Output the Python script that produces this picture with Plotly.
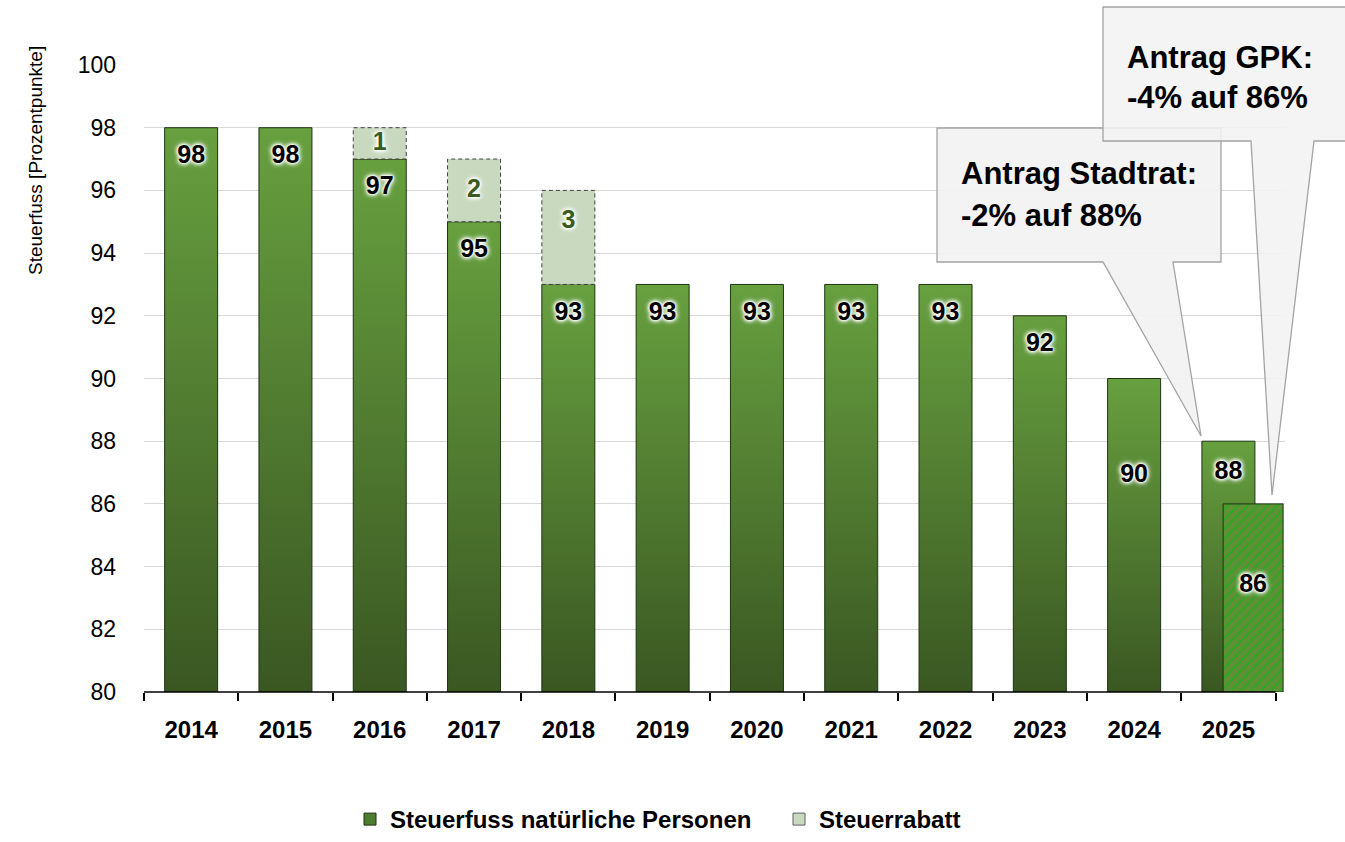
import plotly.graph_objects as go

# ---------------- data ----------------
years = ["2014", "2015", "2016", "2017", "2018", "2019", "2020", "2021", "2022", "2023", "2024", "2025"]
steuerfuss = [98, 98, 97, 95, 93, 93, 93, 93, 93, 92, 90, 88]
steuerrabatt = [0, 0, 1, 2, 3, 0, 0, 0, 0, 0, 0, 0]
gpk_year = "2025"
gpk_value = 86
y_ticks = [80, 82, 84, 86, 88, 90, 92, 94, 96, 98, 100]
callout_stadtrat = ["Antrag Stadtrat:", "-2% auf 88%"]
callout_gpk = ["Antrag GPK:", "-4% auf 86%"]

# ---------------- style ----------------
FONT = "Liberation Sans, Arial, sans-serif"
DARK = "#3a5722"
LIGHT = "#67a03f"
RABATT_FILL = "#c9d9c0"
BAR_W = 0.562
GPK_W, GPK_OFF = 0.636, -0.056
HALO = ("0px 0px 2px #ffffff, 0px 0px 3px #ffffff, 0px 0px 4px #ffffff, "
        "0px 0px 5px #ffffff, 0px 0px 6px #f0fff0")
label_drop = [0.92] * 10 + [3.1, 1.0]          # label distance below bar top (style)
rabatt_label_drop = [0, 0, 0.5, 1.0, 1.0, 0, 0, 0, 0, 0, 0, 0]

L, R, T, B = 144, 60, 65, 150
W, H = 1345, 842
PW, PH = W - L - R, H - T - B


def px(x):
    return (x - L) / PW


def py(y):
    return (H - B - y) / PH


fig = go.Figure()
xs = list(range(len(years)))
base = y_ticks[0]

# main bars (gradient filled)
for i, v in enumerate(steuerfuss):
    x0, x1 = xs[i] - BAR_W / 2, xs[i] + BAR_W / 2
    fig.add_trace(go.Scatter(
        x=[x0, x1, x1, x0, x0], y=[base, base, v, v, base],
        mode="lines", fill="toself",
        fillgradient=dict(type="vertical", colorscale=[[0, DARK], [1, LIGHT]]),
        line=dict(color="#1f3312", width=1),
        showlegend=False, hoverinfo="skip"))

# rabatt segments (dashed outline)
for i, (v, r) in enumerate(zip(steuerfuss, steuerrabatt)):
    if r <= 0:
        continue
    x0, x1 = xs[i] - BAR_W / 2, xs[i] + BAR_W / 2
    fig.add_trace(go.Scatter(
        x=[x0, x1, x1, x0, x0], y=[v, v, v + r, v + r, v],
        mode="lines", fill="toself", fillcolor=RABATT_FILL,
        line=dict(color="#404040", width=1, dash="4px,3px"),
        showlegend=False, hoverinfo="skip"))

# GPK hatched bar (drawn in front of the 2025 bar)
gi = years.index(gpk_year)
gx0 = xs[gi] + GPK_OFF
gx1 = gx0 + GPK_W
fig.add_trace(go.Scatter(
    x=[gx0, gx1, gx1, gx0, gx0], y=[base, base, gpk_value, gpk_value, base],
    mode="lines", fill="toself", fillcolor="#5f8f36",
    fillpattern=dict(shape="/", fgcolor="#1cb01c", bgcolor="#5f8f36",
                     fillmode="replace", size=7, solidity=0.22),
    line=dict(color="#1f3312", width=1),
    showlegend=False, hoverinfo="skip"))

# legend entries
fig.add_trace(go.Bar(x=[None], y=[None], name="Steuerfuss natürliche Personen",
                     marker=dict(color="#4f7d30", line=dict(color="#1f3312", width=1))))
fig.add_trace(go.Bar(x=[None], y=[None], name="Steuerrabatt",
                     marker=dict(color=RABATT_FILL, line=dict(color="#606060", width=1))))

lab_font = dict(family=FONT, size=25, color="#000000", weight="bold", shadow=HALO)
# labels main
lab_y = [v - d for v, d in zip(steuerfuss, label_drop)]
fig.add_trace(go.Scatter(
    x=xs, y=lab_y, mode="text", text=[str(v) for v in steuerfuss],
    textfont=lab_font, cliponaxis=False, showlegend=False, hoverinfo="skip"))
# label GPK
fig.add_trace(go.Scatter(
    x=[(gx0 + gx1) / 2], y=[gpk_value - 2.6], mode="text", text=[str(gpk_value)],
    textfont=lab_font, cliponaxis=False, showlegend=False, hoverinfo="skip"))
# labels rabatt
rx, ry, rt = [], [], []
for i, (v, r) in enumerate(zip(steuerfuss, steuerrabatt)):
    if r > 0:
        rx.append(xs[i])
        ry.append(v + r - rabatt_label_drop[i])
        rt.append(str(r))
fig.add_trace(go.Scatter(
    x=rx, y=ry, mode="text", text=rt,
    textfont=dict(family=FONT, size=25, color="#3a5a22", weight="bold", shadow=HALO),
    cliponaxis=False, showlegend=False, hoverinfo="skip"))


def path(points):
    return "M " + " L ".join(f"{px(a):.5f},{py(b):.5f}" for a, b in points) + " Z"


shapes = [
    dict(type="path", xref="paper", yref="paper", layer="above",
         path=path([(937, 128), (1221, 128), (1221, 262), (1173, 262), (1201, 436),
                    (1103, 262), (937, 262)]),
         fillcolor="rgba(242,242,242,0.9)", line=dict(color="#a3a3a3", width=1.3)),
    dict(type="path", xref="paper", yref="paper", layer="above",
         path=path([(1103, 7), (1360, 7), (1360, 141), (1314, 141), (1272, 495),
                    (1251, 141), (1103, 141)]),
         fillcolor="rgba(242,242,242,0.88)", line=dict(color="#a3a3a3", width=1.3)),
    dict(type="line", xref="x", yref="paper", x0=-0.5, x1=11.5, y0=0, y1=0,
         line=dict(color="#000000", width=1.5), layer="above"),
]

ann_font = dict(family=FONT, size=31, color="#000000", weight="bold")
annotations = [
    dict(text=callout_stadtrat[0], x=px(959), y=py(174), xref="paper", yref="paper",
         xanchor="left", yanchor="middle", showarrow=False, font=ann_font),
    dict(text=callout_stadtrat[1], x=px(959), y=py(215), xref="paper", yref="paper",
         xanchor="left", yanchor="middle", showarrow=False, font=ann_font),
    dict(text=callout_gpk[0], x=px(1125), y=py(58), xref="paper", yref="paper",
         xanchor="left", yanchor="middle", showarrow=False, font=ann_font),
    dict(text=callout_gpk[1], x=px(1125), y=py(97), xref="paper", yref="paper",
         xanchor="left", yanchor="middle", showarrow=False, font=ann_font),
    dict(text="Steuerfuss [Prozentpunkte]", x=px(35), y=py(161), xref="paper", yref="paper",
         xanchor="center", yanchor="middle", textangle=-90, showarrow=False,
         font=dict(family=FONT, size=19, color="#000000")),
]

fig.update_layout(
    width=W, height=H,
    margin=dict(l=L, r=R, t=T, b=B, autoexpand=False),
    plot_bgcolor="#ffffff", paper_bgcolor="#ffffff",
    barmode="overlay",
    shapes=shapes, annotations=annotations,
    legend=dict(orientation="h", x=350 / W, y=0.0, xref="container", yref="container",
                xanchor="left", yanchor="bottom", entrywidth=384, entrywidthmode="pixels",
                font=dict(family=FONT, size=24, color="#000000", weight="bold"),
                bgcolor="rgba(0,0,0,0)"),
    xaxis=dict(range=[-0.5, 11.6], tickmode="array", tickvals=xs, ticktext=years,
               ticks="", showgrid=False, zeroline=False, showline=False,
               tickfont=dict(family=FONT, size=24, color="#000000", weight="bold"),
               ticklabelstandoff=21,
               minor=dict(tickmode="array", tickvals=[i - 0.5 for i in range(len(years) + 1)],
                          ticks="outside", ticklen=8, tickwidth=1.5, tickcolor="#000000",
                          showgrid=False)),
    yaxis=dict(range=[80, 100], tickmode="array", tickvals=y_ticks,
               showgrid=True, gridcolor="#d9d9d9", gridwidth=1, zeroline=False,
               showline=False, ticks="", ticklabelstandoff=27,
               tickfont=dict(family=FONT, size=23, color="#000000")),
)

fig.write_html("out.html", post_script="document.body.style.margin='0';",
               config={"displayModeBar": False})
